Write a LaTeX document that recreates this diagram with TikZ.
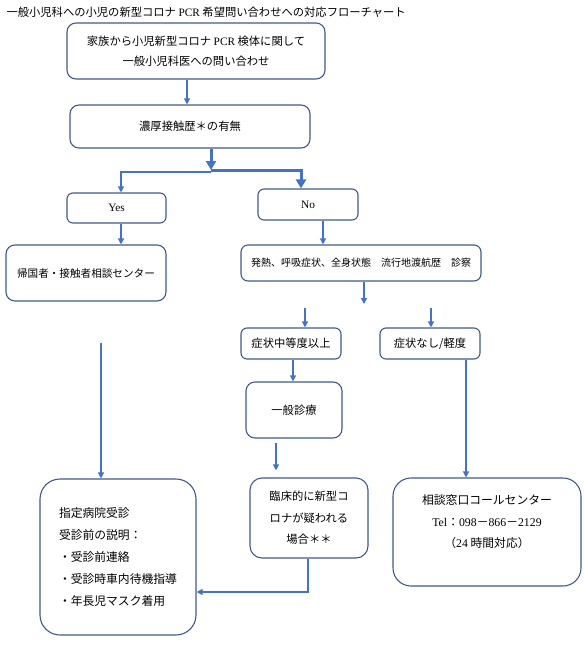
\documentclass[tikz,border=0pt]{standalone}
\usepackage{fontspec}
\setmainfont{Liberation Serif}
\newfontfamily\jp{Noto Sans CJK JP}
\usepackage{xcolor}
\usetikzlibrary{arrows.meta, positioning, calc}
\definecolor{boxline}{HTML}{41598B}
\definecolor{arrowblue}{HTML}{4472C4}
\newcommand{\lat}[1]{{\rmfamily #1}}
\tikzstyle{box} = [rectangle, draw=boxline, line width=1.1pt, rounded corners=9pt, text centered, inner sep=0pt, font=\jp\fontsize{11.3}{20}\selectfont]
\tikzstyle{arrow} = [draw=arrowblue, line width=1.2pt, -{Triangle[width=6pt,length=6pt]}]
\tikzstyle{thickarrow} = [draw=arrowblue, line width=3pt, -{Triangle[width=10pt,length=9pt]}]

\begin{document}
\begin{tikzpicture}[x=1pt, y=-1pt]
    \useasboundingbox (0,0) rectangle (585,651);
    \node (title) [anchor=west, font=\jp\fontsize{11.3}{14}\selectfont] at (3,12) {一般小児科への小児の新型コロナ \lat{PCR} 希望問い合わせへの対応フローチャート};

    \node (family) [box, minimum width=258pt, minimum height=56pt, align=center] at (196,51) {家族から小児新型コロナ \lat{PCR} 検体に関して\\一般小児科医への問い合わせ};
    \node (contact) [box, minimum width=240pt, minimum height=43pt] at (190,126.5) {濃厚接触歴＊の有無};
    \node (yes) [box, minimum width=99pt, minimum height=30pt, rounded corners=6pt] at (116.5,208) {\lat{Yes}};
    \node (no) [box, minimum width=100pt, minimum height=31pt, rounded corners=6pt] at (308,204.5) {\lat{No}};
    \node (returnee) [box, minimum width=160pt, minimum height=56pt, font=\jp\fontsize{10.6}{14}\selectfont] at (86,273) {帰国者・接触者相談センター};
    \node (exam) [box, minimum width=240pt, minimum height=36pt, rounded corners=7pt, font=\jp\fontsize{10}{14}\selectfont] at (361,263) {発熱、呼吸症状、全身状態　流行地渡航歴　診察};
    \node (moderate) [box, minimum width=100pt, minimum height=31pt, rounded corners=6pt] at (291,343.5) {症状中等度以上};
    \node (mild) [box, minimum width=100pt, minimum height=31pt, rounded corners=6pt] at (430,343.5) {症状なし/軽度};
    \node (general) [box, minimum width=96pt, minimum height=56pt] at (294,410) {一般診療};
    \node (clinical) [box, minimum width=118pt, minimum height=80pt, rounded corners=12pt, align=center, font=\jp\fontsize{11.3}{21.5}\selectfont] at (309,518) {臨床的に新型コ\\ロナが疑われる\\場合＊＊};
    \node (hospital) [box, minimum width=156pt, minimum height=156pt, rounded corners=20pt, align=left, font=\jp\fontsize{11.8}{22}\selectfont] at (118,557) {指定病院受診\\受診前の説明：\\・受診前連絡\\・受診時車内待機指導\\・年長児マスク着用};
    \node (callcenter) [box, minimum width=188pt, minimum height=108pt, rounded corners=18pt, align=center, font=\jp\fontsize{11.8}{21.5}\selectfont] at (487,532) {相談窓口コールセンター\\\lat{Tel}：\lat{098}－\lat{866}－\lat{2129}\\（\lat{24} 時間対応）\\\mbox{}};

    \coordinate (split) at (211,170);
    \coordinate (examend) at (364,304);
    \coordinate (modstart) at (305,308);
    \coordinate (mildstart) at (431,308);
    \coordinate (hospstart) at (101,343);

    \draw [arrow] ([xshift=-9pt]family.south) -- ([xshift=-3pt]contact.north);
    \draw [thickarrow] ([xshift=21pt]contact.south) -- (split);
    \draw [thickarrow] (split) -| ([xshift=-7pt]no.north);
    \draw [arrow] ([yshift=-2pt]split) -| ([xshift=4.5pt]yes.north);
    \draw [arrow] ([xshift=4.5pt]yes.south) -- ([xshift=4.5pt]yes.south |- returnee.north);
    \draw [arrow] ([xshift=15pt]no.south) -- ([xshift=15pt]no.south |- exam.north);
    \draw [arrow, line width=1.8pt] ([xshift=3pt]exam.south) -- (examend);
    \draw [arrow] (modstart) -- (modstart |- moderate.north);
    \draw [arrow] (mildstart) -- (mildstart |- mild.north);
    \draw [arrow] ([xshift=2pt]moderate.south) -- ([xshift=-1pt]general.north);
    \draw [arrow, shorten <=4pt, shorten >=7pt] ([xshift=-18pt]general.south) -- ([xshift=-33pt]clinical.north);
    \draw [arrow] ([xshift=-1pt]clinical.south) |- ([yshift=-35pt]hospital.east);
    \draw [arrow] (hospstart) -- (hospstart |- hospital.north);
    \draw [arrow] ([xshift=36pt]mild.south) -- ([xshift=36pt]mild.south |- callcenter.north);
\end{tikzpicture}
\end{document}
